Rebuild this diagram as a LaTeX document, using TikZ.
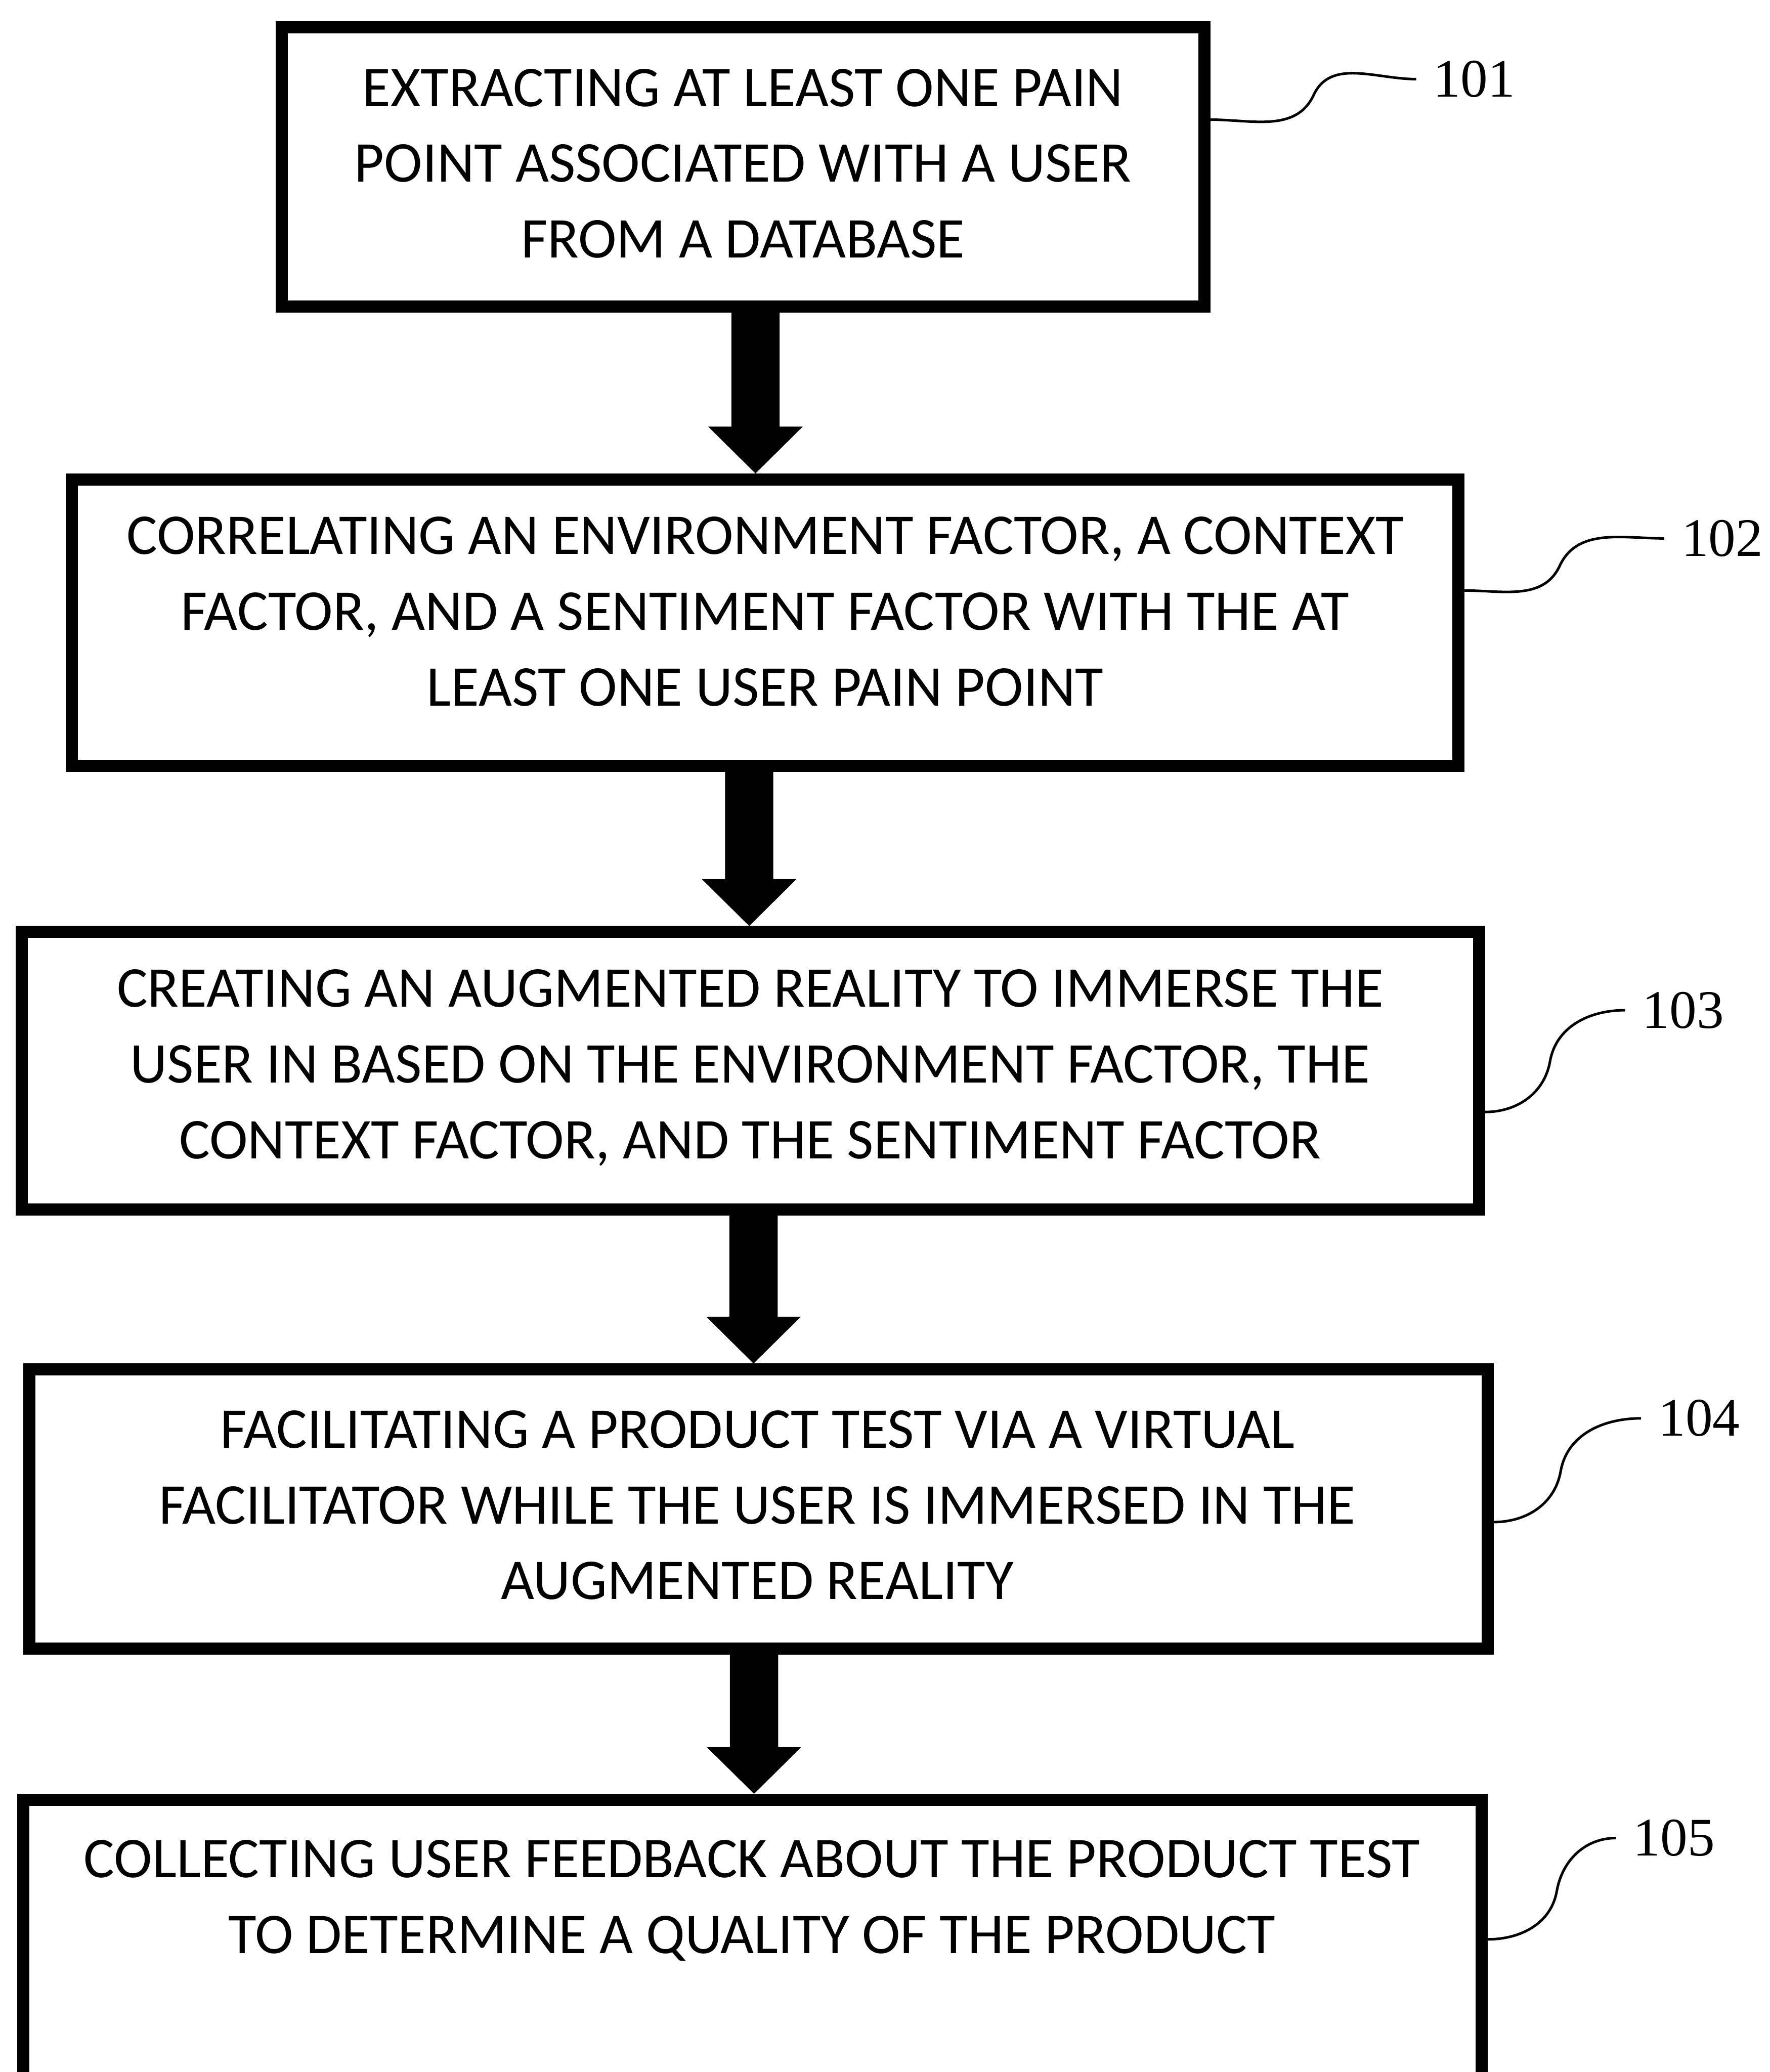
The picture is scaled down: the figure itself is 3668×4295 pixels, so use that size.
\documentclass[tikz,border=0pt]{standalone}
\usepackage{fontspec}
\setmainfont{Carlito}
\newfontfamily\labelfont{Liberation Serif}
\usetikzlibrary{calc}
\newcommand\flowarrow[3]{%
  \fill ($(#1.south -| #3)+(-50,0)$) -- ($(#2.north -| #3)+(-50,-97)$) --
        ($(#2.north -| #3)+(-98,-97)$) -- (#2.north -| #3) --
        ($(#2.north -| #3)+(98,-97)$) -- ($(#2.north -| #3)+(50,-97)$) --
        ($(#1.south -| #3)+(50,0)$) -- cycle;}
\tikzset{
  stepbox/.style={draw=black, line width=7.1pt, rectangle, inner sep=0pt, fill=none},
  steptext/.style={align=center, inner sep=0pt, font=\fontsize{34}{44.7}\selectfont},
  reflabel/.style={font=\labelfont\fontsize{32}{36}\selectfont, inner sep=10pt},
  leader/.style={line width=1.5pt}
}
\begin{document}
\begin{tikzpicture}[x=0.01cm, y=-0.01cm]
\useasboundingbox (0,0) rectangle (3668,4295);
\clip (0,0) rectangle (3668,4295);
\fill[white] (0,0) rectangle (3668,4295);

% boxes (centerline geometry)
\node[stepbox, minimum width=19.11cm, minimum height=5.78cm] (b1) at (1540.5,346) {};
\node[stepbox, minimum width=28.72cm, minimum height=5.93cm] (b2) at (1586,1290.5) {};
\node[stepbox, minimum width=30.19cm, minimum height=5.75cm] (b3) at (1555.5,2219.5) {};
\node[stepbox, minimum width=30.21cm, minimum height=5.78cm] (b4) at (1572.5,3128) {};
\node[stepbox, minimum width=30.21cm, minimum height=7.00cm] (b5) at (1559.5,4081) {};

% texts
\node[steptext] (t1) at (1540,339) {EXTRACTING AT LEAST ONE PAIN\\POINT ASSOCIATED WITH A USER\\FROM A DATABASE};
\node[steptext] (t2) at (1586,1268) {CORRELATING AN ENVIRONMENT FACTOR, A CONTEXT\\FACTOR, AND A SENTIMENT FACTOR WITH THE AT\\LEAST ONE USER PAIN POINT};
\node[steptext] (t3) at (1555,2213) {CREATING AN AUGMENTED REALITY TO IMMERSE THE\\USER IN BASED ON THE ENVIRONMENT FACTOR, THE\\CONTEXT FACTOR, AND THE SENTIMENT FACTOR};
\node[steptext] (t4) at (1570,3120) {FACILITATING A PRODUCT TEST VIA A VIRTUAL\\FACILITATOR WHILE THE USER IS IMMERSED IN THE\\AUGMENTED REALITY};
\node[steptext] (t5) at (1559,3940) {COLLECTING USER FEEDBACK ABOUT THE PRODUCT TEST\\TO DETERMINE A QUALITY OF THE PRODUCT};

% arrow axes
\coordinate (a1) at (1566,0);
\coordinate (a2) at (1553,0);
\coordinate (a3) at (1562,0);
\coordinate (a4) at (1563,0);
\flowarrow{b1}{b2}{a1}
\flowarrow{b2}{b3}{a2}
\flowarrow{b3}{b4}{a3}
\flowarrow{b4}{b5}{a4}

% reference labels
\node[reflabel] (l1) at (3056,164) {101};
\node[reflabel] (l2) at (3570,1116) {102};
\node[reflabel] (l3) at (3489,2094) {103};
\node[reflabel] (l4) at (3522,2940) {104};
\node[reflabel] (l5) at (3470,3810) {105};

\draw[leader] (b1.east |- 0,248) to[out=0,in=-115] (2723,197) to[out=65,in=180] (l1.west);
\draw[leader] (b2.east |- 0,1224) to[out=0,in=-115] (3233,1173) to[out=65,in=180] (l2.west);
\draw[leader] (b3.east |- 0,2305) to[out=0,in=-100] (3213,2200) to[out=80,in=180] (l3.west);
\draw[leader] (b4.east |- 0,3155) to[out=0,in=-100] (3235,3050) to[out=80,in=180] (l4.west);
\draw[leader] (b5.east |- 0,4020) to[out=0,in=-100] (3227,3920) to[out=80,in=180] (l5.west);
\end{tikzpicture}
\end{document}
